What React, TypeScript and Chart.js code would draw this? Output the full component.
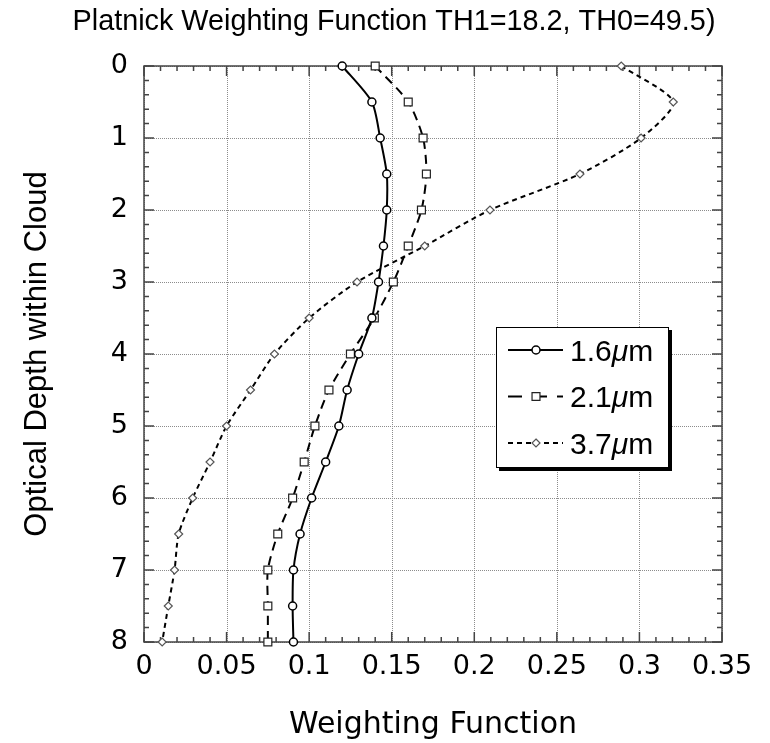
import React, { useEffect, useRef } from 'react';
import { Chart, registerables } from 'chart.js';

Chart.register(...registerables);

// ---- data ----
const depth = [0, 0.5, 1, 1.5, 2, 2.5, 3, 3.5, 4, 4.5, 5, 5.5, 6, 6.5, 7, 7.5, 8];
const wf16 = [0.120, 0.138, 0.143, 0.147, 0.147, 0.145, 0.142, 0.138, 0.130, 0.123, 0.118, 0.110, 0.1015, 0.0945, 0.0905, 0.090, 0.0905];
const wf21 = [0.140, 0.160, 0.169, 0.171, 0.168, 0.160, 0.151, 0.1395, 0.125, 0.112, 0.1035, 0.097, 0.090, 0.081, 0.075, 0.075, 0.075];
const wf37 = [0.289, 0.3205, 0.301, 0.264, 0.2095, 0.170, 0.129, 0.100, 0.079, 0.0645, 0.050, 0.040, 0.0295, 0.021, 0.0185, 0.0147, 0.011];
const seriesNames = ['1.6', '2.1', '3.7'];

const xTickValues = [0, 0.05, 0.1, 0.15, 0.2, 0.25, 0.3, 0.35];
const xTickLabels = ['0', '0.05', '0.1', '0.15', '0.2', '0.25', '0.3', '0.35'];
const yTickValues = [0, 1, 2, 3, 4, 5, 6, 7, 8];
const yTickLabels = ['0', '1', '2', '3', '4', '5', '6', '7', '8'];
const xMinorStep = 0.01;
const yMinorStep = 0.2;

const titleText = 'Platnick Weighting Function TH1=18.2, TH0=49.5)';
const xTitle = 'Weighting Function';
const yTitle = 'Optical Depth within Cloud';

const SANS = '"Liberation Sans", Arial, Helvetica, sans-serif';
const ROUND = '"DejaVu Sans", Verdana, sans-serif';

const toPoints = (vals: number[]) => vals.map((v, i) => ({ x: v, y: depth[i] }));

const framePlugin = {
  id: 'frameTicks',
  beforeDatasetsDraw(chart: any) {
    const { ctx, chartArea: a, scales } = chart;
    const x = scales.x;
    const y = scales.y;
    ctx.save();
    // dotted grid
    ctx.strokeStyle = '#8c8c8c';
    ctx.lineWidth = 1;
    ctx.setLineDash([1, 1]);
    xTickValues.forEach((v) => {
      const px = Math.round(x.getPixelForValue(v)) + 0.5;
      ctx.beginPath();
      ctx.moveTo(px, a.top);
      ctx.lineTo(px, a.bottom);
      ctx.stroke();
    });
    yTickValues.forEach((v) => {
      const py = Math.round(y.getPixelForValue(v)) + 0.5;
      ctx.beginPath();
      ctx.moveTo(a.left, py);
      ctx.lineTo(a.right, py);
      ctx.stroke();
    });
    ctx.setLineDash([]);
    // inward ticks
    ctx.strokeStyle = '#444';
    ctx.lineWidth = 1.5;
    const nx = Math.round((x.max - x.min) / xMinorStep);
    for (let i = 0; i <= nx; i++) {
      const v = x.min + i * xMinorStep;
      const px = x.getPixelForValue(v);
      const len = i % 5 === 0 ? 10 : 5;
      ctx.beginPath();
      ctx.moveTo(px, a.bottom);
      ctx.lineTo(px, a.bottom - len);
      ctx.moveTo(px, a.top);
      ctx.lineTo(px, a.top + len);
      ctx.stroke();
    }
    const ny = Math.round((y.max - y.min) / yMinorStep);
    for (let i = 0; i <= ny; i++) {
      const v = y.min + i * yMinorStep;
      const py = y.getPixelForValue(v);
      const len = i % 5 === 0 ? 10 : 5;
      ctx.beginPath();
      ctx.moveTo(a.left, py);
      ctx.lineTo(a.left + len, py);
      ctx.moveTo(a.right, py);
      ctx.lineTo(a.right - len, py);
      ctx.stroke();
    }
    // frame
    ctx.strokeStyle = '#444';
    ctx.lineWidth = 1.5;
    ctx.strokeRect(a.left, a.top, a.width, a.height);
    ctx.restore();
  },
};

function drawMarker(ctx: CanvasRenderingContext2D, style: string, cx: number, cy: number, r: number, stroke: string, lw: number) {
  ctx.save();
  ctx.fillStyle = '#fff';
  ctx.strokeStyle = stroke;
  ctx.lineWidth = lw;
  ctx.setLineDash([]);
  ctx.beginPath();
  if (style === 'circle') {
    ctx.arc(cx, cy, r, 0, Math.PI * 2);
  } else if (style === 'rect') {
    const s = r * Math.SQRT1_2;
    ctx.rect(cx - s, cy - s, 2 * s, 2 * s);
  } else {
    ctx.moveTo(cx, cy - r);
    ctx.lineTo(cx + r, cy);
    ctx.lineTo(cx, cy + r);
    ctx.lineTo(cx - r, cy);
    ctx.closePath();
  }
  ctx.fill();
  ctx.stroke();
  ctx.restore();
}

const overlayPlugin = {
  id: 'overlay',
  afterDraw(chart: any) {
    const ctx: CanvasRenderingContext2D = chart.ctx;
    ctx.save();
    // page title
    ctx.fillStyle = '#000';
    ctx.font = `28.8px ${SANS}`;
    ctx.textAlign = 'center';
    ctx.textBaseline = 'alphabetic';
    ctx.fillText(titleText, 394, 30);

    // legend box
    const bx = 496, by = 327, bw = 172, bh = 140;
    ctx.fillStyle = '#000';
    ctx.fillRect(bx + 3, by + 3, bw + 1, bh + 1);
    ctx.fillStyle = '#fff';
    ctx.fillRect(bx, by, bw, bh);
    ctx.strokeStyle = '#000';
    ctx.lineWidth = 1;
    ctx.strokeRect(bx + 0.5, by + 0.5, bw, bh);

    const rows = [350, 396.5, 443];
    const x0 = 508, x1 = 563, mx = 536;
    chart.data.datasets.forEach((ds: any, i: number) => {
      const cy = rows[i];
      ctx.strokeStyle = '#000';
      ctx.lineWidth = 2;
      if (i === 0) {
        ctx.setLineDash([]);
        ctx.beginPath();
        ctx.moveTo(x0, cy);
        ctx.lineTo(x1, cy);
        ctx.stroke();
      } else if (i === 1) {
        ctx.setLineDash([]);
        const segs = [[508, 522], [540, 547], [557, 563]];
        segs.forEach(([s, e]) => {
          ctx.beginPath();
          ctx.moveTo(s, cy);
          ctx.lineTo(e, cy);
          ctx.stroke();
        });
      } else {
        ctx.setLineDash([5, 4]);
        ctx.beginPath();
        ctx.moveTo(x0, cy);
        ctx.lineTo(x1, cy);
        ctx.stroke();
        ctx.setLineDash([]);
      }
      drawMarker(ctx, ds.pointStyle, mx, cy, ds.pointRadius, ds.pointBorderColor, ds.pointBorderWidth);
      // label text: number + italic mu + m
      ctx.fillStyle = '#000';
      ctx.textAlign = 'left';
      ctx.textBaseline = 'alphabetic';
      const base = cy + 10.5;
      let tx = 570;
      ctx.font = `30px ${SANS}`;
      ctx.fillText(seriesNames[i], tx, base);
      tx += ctx.measureText(seriesNames[i]).width;
      ctx.font = `italic 30px ${SANS}`;
      ctx.fillText('\u03bc', tx, base);
      tx += ctx.measureText('\u03bc').width;
      ctx.font = `30px ${SANS}`;
      ctx.fillText('m', tx, base);
    });
    ctx.restore();
  },
};

export default function App() {
  const ref = useRef<HTMLCanvasElement | null>(null);

  useEffect(() => {
    if (!ref.current) return;
    const chart = new Chart(ref.current, {
      type: 'line',
      data: {
        datasets: [
          {
            label: seriesNames[0] + '\u03bcm',
            data: toPoints(wf16),
            borderColor: '#000',
            borderWidth: 2,
            tension: 0.25,
            pointStyle: 'circle',
            pointRadius: 4,
            pointBackgroundColor: '#fff',
            pointBorderColor: '#000',
            pointBorderWidth: 1.5,
            clip: false,
          } as any,
          {
            label: seriesNames[1] + '\u03bcm',
            data: toPoints(wf21),
            borderColor: '#000',
            borderWidth: 2,
            borderDash: [9, 6],
            tension: 0.25,
            pointStyle: 'rect',
            pointRadius: 5.6,
            pointBackgroundColor: '#fff',
            pointBorderColor: '#222',
            pointBorderWidth: 1.2,
            clip: false,
          } as any,
          {
            label: seriesNames[2] + '\u03bcm',
            data: toPoints(wf37),
            borderColor: '#000',
            borderWidth: 2,
            borderDash: [5, 4],
            tension: 0.25,
            pointStyle: 'rectRot',
            pointRadius: 4,
            pointBackgroundColor: '#fff',
            pointBorderColor: '#555',
            pointBorderWidth: 1.2,
            clip: false,
          } as any,
        ],
      },
      options: {
        responsive: false,
        animation: false,
        devicePixelRatio: 1,
        layout: { padding: { top: 66, right: 48, left: 0, bottom: 0 } },
        plugins: {
          legend: { display: false },
          title: { display: false },
          tooltip: { enabled: false },
        },
        scales: {
          x: {
            type: 'linear',
            position: 'bottom',
            min: 0,
            max: 0.35,
            afterBuildTicks: (s: any) => {
              s.ticks = xTickValues.map((v) => ({ value: v }));
            },
            afterFit: (s: any) => {
              s.height = 101;
            },
            grid: { display: false, drawTicks: false },
            border: { display: false },
            ticks: {
              autoSkip: false,
              maxRotation: 0,
              minRotation: 0,
              padding: 9,
              color: '#000',
              font: { family: ROUND, size: 27 },
              callback: (_v: any, i: number) => xTickLabels[i],
            },
            title: {
              display: true,
              text: xTitle,
              color: '#000',
              font: { family: ROUND, size: 30 },
              padding: { top: 0, bottom: 0 },
            },
          },
          y: {
            type: 'linear',
            position: 'left',
            reverse: true,
            min: 0,
            max: 8,
            afterBuildTicks: (s: any) => {
              s.ticks = yTickValues.map((v) => ({ value: v }));
            },
            afterFit: (s: any) => {
              s.width = 144;
            },
            grid: { display: false, drawTicks: false },
            border: { display: false },
            ticks: {
              autoSkip: false,
              padding: 16,
              color: '#000',
              font: { family: ROUND, size: 27 },
              callback: (_v: any, i: number) => yTickLabels[i],
            },
            title: {
              display: true,
              text: yTitle,
              color: '#000',
              font: { family: SANS, size: 31 },
              padding: { top: 19, bottom: 0 },
            },
          },
        },
      } as any,
      plugins: [framePlugin, overlayPlugin],
    });
    return () => chart.destroy();
  }, []);

  return (
    <div style={{ position: 'fixed', left: 0, top: 0, width: 770, height: 743, background: '#fff' }}>
      <canvas ref={ref} width={770} height={743} style={{ display: 'block', width: 770, height: 743 }} />
    </div>
  );
}
